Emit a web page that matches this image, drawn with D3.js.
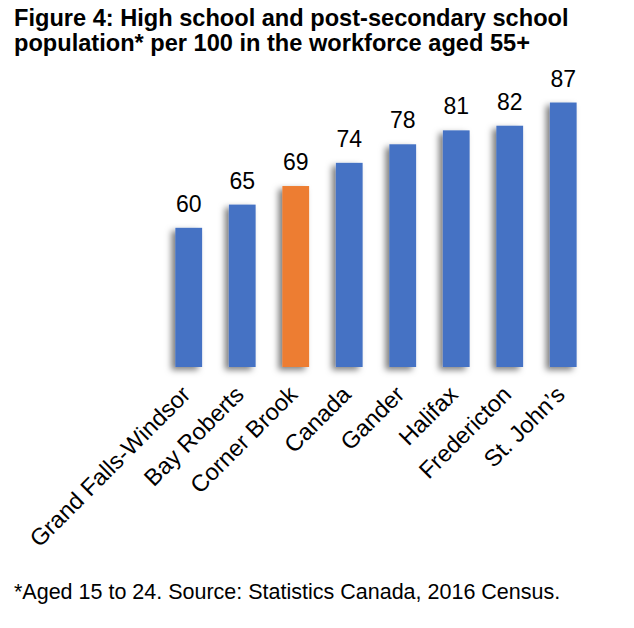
<!DOCTYPE html>
<html>
<head>
<meta charset="utf-8">
<script src="https://cdn.jsdelivr.net/npm/d3@7"></script>
<style>
  body { margin: 0; background: #fff; }
  text { font-family: Arial, "Liberation Sans", sans-serif; }
</style>
</head>
<body>
<div id="chart"></div>
<script>
const places = ["Grand Falls-Windsor", "Bay Roberts", "Corner Brook", "Canada", "Gander", "Halifax", "Fredericton", "St. John\u2019s"];
const rates = [60, 65, 69, 74, 78, 81, 82, 87];
const highlighted = ["Corner Brook"];
const titleLines = ["Figure 4: High school and post-secondary school", "population* per 100 in the workforce aged 55+"];
const footnote = "*Aged 15 to 24. Source: Statistics Canada, 2016 Census.";

let svg, xScale, yScale;
const w = 634, h = 628;
const base = 367;

const createSVG = () => {
  svg = d3.select("#chart")
    .append("svg")
    .attr("width", w)
    .attr("height", h);

  svg.append("rect").attr("width", w).attr("height", h).attr("fill", "#fff");

  svg.append("defs")
    .append("filter")
    .attr("id", "shadow")
    .attr("x", "-50%").attr("y", "-10%")
    .attr("width", "200%").attr("height", "130%")
    .append("feDropShadow")
    .attr("dx", -4)
    .attr("dy", 3)
    .attr("stdDeviation", 3)
    .attr("flood-color", "#000")
    .attr("flood-opacity", 0.5);
}

const createScales = () => {
  xScale = d3.scaleBand()
    .domain(places)
    .range([162, 590])
    .paddingInner(0.5)
    .paddingOuter(0.25);
  yScale = d3.scaleLinear()
    .domain([30, 90])
    .range([base, base - 60 * 4.64]);
}

const createTitle = () => {
  svg.append("g")
    .selectAll("text")
    .data(titleLines)
    .enter()
    .append("text")
    .attr("x", 14)
    .attr("y", (d, i) => 26 + i * 25)
    .attr("font-size", "23.6px")
    .attr("font-weight", "bold")
    .attr("fill", "#000")
    .text(d => d);
}

const createBars = () => {
  svg.append("line")
    .attr("x1", 162).attr("x2", 590)
    .attr("y1", base).attr("y2", base)
    .attr("stroke", "#d9d9d9")
    .attr("stroke-width", 2)
    .attr("filter", "url(#shadow)");

  svg.append("g")
    .selectAll("rect")
    .data(places)
    .enter()
    .append("rect")
    .attr("x", d => xScale(d))
    .attr("y", (d, i) => yScale(rates[i]))
    .attr("width", xScale.bandwidth())
    .attr("height", (d, i) => base - yScale(rates[i]))
    .attr("fill", d => highlighted.includes(d) ? "#ED7D31" : "#4472C4")
    .attr("filter", "url(#shadow)");

  svg.append("g")
    .selectAll("text")
    .data(places)
    .enter()
    .append("text")
    .attr("x", d => xScale(d) + xScale.bandwidth() / 2)
    .attr("y", (d, i) => yScale(rates[i]) - 16)
    .attr("text-anchor", "middle")
    .attr("font-size", "23px")
    .attr("fill", "#000")
    .text((d, i) => rates[i]);
}

const createAxis = () => {
  const xAxis = d3.axisBottom(xScale).tickSize(0).tickPadding(0);
  svg.append("g")
    .attr("transform", `translate(0, ${base})`)
    .call(xAxis)
    .call(g => g.select(".domain").remove())
    .call(g => g.selectAll(".tick text")
      .attr("font-size", "23.5px")
      .attr("font-family", "Arial, 'Liberation Sans', sans-serif")
      .attr("fill", "#000")
      .attr("text-anchor", "end")
      .attr("dy", 0)
      .attr("transform", "translate(3, 29) rotate(-45)"));
}

const createFootnote = () => {
  svg.append("text")
    .attr("x", 14)
    .attr("y", 599)
    .attr("font-size", "21.5px")
    .attr("fill", "#000")
    .text(footnote);
}

createSVG();
createScales();
createTitle();
createBars();
createAxis();
createFootnote();
</script>
</body>
</html>
